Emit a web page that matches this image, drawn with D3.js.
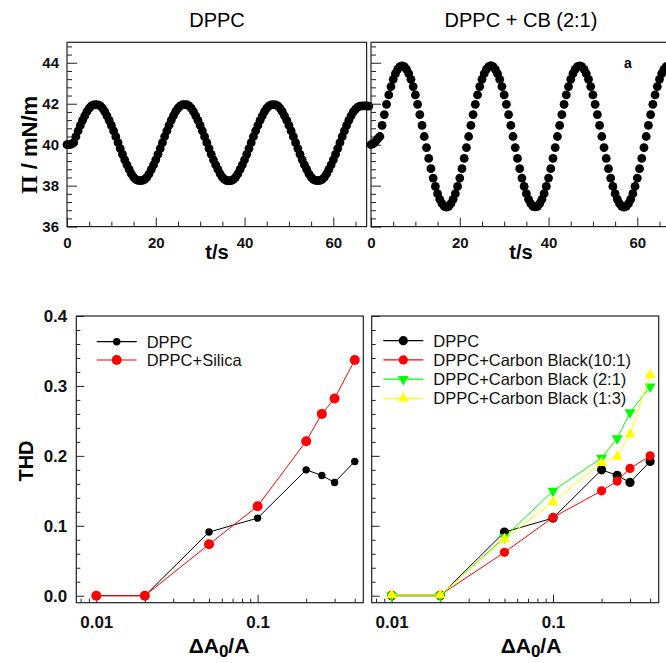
<!DOCTYPE html>
<html>
<head>
<meta charset="utf-8">
<script src="https://cdn.jsdelivr.net/npm/d3@7"></script>
<style>
  body { margin: 0; background: #fff; }
  svg { display: block; font-family: "Liberation Sans", Arial, sans-serif; }
</style>
</head>
<body>
<div id="chart"></div>
<script>
// --- data -----------------------------------------------------------------
// surface pressure (mN/m) sampled every 0.5 s, read off the traces
const sampleStep = 0.5;
const dppcPi = [
  40.00, 40.00, 40.03,
  40.10, 40.39, 40.67, 40.94, 41.19, 41.41, 41.62, 41.78, 41.89, 41.94, 41.95, 41.94, 41.89, 41.78, 41.61, 41.41, 41.19, 40.94, 40.67, 40.39,
  40.10, 39.81, 39.53, 39.26, 39.01, 38.79, 38.58, 38.42, 38.31, 38.26, 38.25, 38.26, 38.31, 38.42, 38.58, 38.79, 39.01, 39.26, 39.53, 39.81,
  40.10, 40.40, 40.68, 40.95, 41.20, 41.42, 41.63, 41.79, 41.90, 41.95, 41.96, 41.95, 41.90, 41.78, 41.61, 41.41, 41.19, 40.94, 40.67, 40.39,
  40.10, 39.81, 39.53, 39.26, 39.01, 38.79, 38.58, 38.41, 38.30, 38.25, 38.24, 38.25, 38.30, 38.42, 38.58, 38.79, 39.01, 39.26, 39.53, 39.81,
  40.10, 40.39, 40.67, 40.94, 41.19, 41.41, 41.62, 41.78, 41.89, 41.94, 41.95, 41.94, 41.89, 41.78, 41.61, 41.41, 41.19, 40.94, 40.67, 40.39,
  40.10, 39.81, 39.53, 39.26, 39.01, 38.79, 38.58, 38.42, 38.31, 38.26, 38.25, 38.26, 38.31, 38.42, 38.58, 38.79, 39.01, 39.26, 39.53, 39.81,
  40.10, 40.39, 40.67, 40.94, 41.19, 41.41, 41.60, 41.74, 41.83, 41.88, 41.90, 41.90, 41.89, 41.88
];
const cbPi = [
  40.00, 40.05, 40.15, 40.28,
  40.40, 40.94, 41.47, 41.97, 42.43, 42.84, 43.19, 43.47, 43.68, 43.81, 43.85, 43.81, 43.68, 43.47, 43.19, 42.84, 42.43, 41.97, 41.47, 40.94,
  40.40, 39.86, 39.33, 38.83, 38.37, 37.96, 37.61, 37.33, 37.12, 36.99, 36.95, 36.99, 37.12, 37.33, 37.61, 37.96, 38.37, 38.83, 39.33, 39.86,
  40.40, 40.94, 41.47, 41.97, 42.43, 42.84, 43.19, 43.47, 43.68, 43.81, 43.86, 43.81, 43.68, 43.47, 43.19, 42.84, 42.43, 41.97, 41.47, 40.94,
  40.40, 39.86, 39.33, 38.83, 38.37, 37.96, 37.61, 37.33, 37.12, 36.99, 36.96, 36.99, 37.12, 37.33, 37.61, 37.96, 38.37, 38.83, 39.33, 39.86,
  40.40, 40.94, 41.47, 41.97, 42.43, 42.84, 43.19, 43.47, 43.68, 43.81, 43.85, 43.81, 43.68, 43.47, 43.19, 42.84, 42.43, 41.97, 41.47, 40.94,
  40.40, 39.86, 39.33, 38.83, 38.37, 37.96, 37.61, 37.33, 37.12, 36.99, 36.95, 36.99, 37.12, 37.33, 37.61, 37.96, 38.37, 38.83, 39.33, 39.86,
  40.40, 40.94, 41.47, 41.97, 42.43, 42.84, 43.19, 43.47, 43.68, 43.81, 43.85, 43.81, 43.68
];
const timeTicks = [0, 20, 40, 60];
const piTicks = [36, 38, 40, 42, 44];

// THD vs relative area amplitude
const amplitude = [0.01, 0.02, 0.05, 0.1, 0.2, 0.25, 0.3, 0.4];
const thdDppc   = [0, 0, 0.091, 0.111, 0.180, 0.172, 0.162, 0.192];
const thdSilica = [0, 0, 0.0735, 0.128, 0.221, 0.260, 0.282, 0.337];
const thdCb101  = [0.001, 0.001, 0.062, 0.112, 0.150, 0.164, 0.182, 0.200];
const thdCb21   = [0, 0, 0.0835, 0.150, 0.197, 0.225, 0.262, 0.299];
const thdCb13   = [0.001, 0.001, 0.081, 0.134, 0.190, 0.199, 0.231, 0.316];
const ampTicks = [0.01, 0.1];
const thdTicks = [0, 0.1, 0.2, 0.3, 0.4];

const svg = d3.select('#chart').append('svg').attr('width', 666).attr('height', 663);

function styleAxis(sel) {
  sel.select('.domain').remove();
  sel.selectAll('line').attr('stroke', '#222').attr('stroke-width', 1);
  sel.selectAll('text').attr('fill', '#111').attr('font-weight', 'bold')
    .attr('font-family', '"Liberation Sans", Arial, sans-serif');
}

function frame(x0, x1, y0, y1) {
  svg.append('rect').attr('x', x0).attr('y', y0)
    .attr('width', x1 - x0).attr('height', y1 - y0)
    .attr('fill', 'none').attr('stroke', '#222').attr('stroke-width', 1.2);
}

// --- top row: pressure traces ----------------------------------------------
const yPi = d3.scaleLinear().domain([36, 45]).range([226.6, 42.3]);
const topPanels = [
  { x: d3.scaleLinear().domain([0, 67.5]).range([67, 366.6]), vals: dppcPi, labels: true, title: 'DPPC' },
  { x: d3.scaleLinear().domain([0, 67.5]).range([371, 670.6]), vals: cbPi, labels: false, title: 'DPPC + CB (2:1)' }
];

topPanels.forEach(p => {
  const [x0] = p.x.range();
  const x1 = p.x.range()[1];
  frame(x0, x1, yPi(45), yPi(36));

  const minorT = d3.range(0, 67.5, 5).filter(v => !timeTicks.includes(v));
  svg.append('g').attr('transform', `translate(0,${yPi(36)})`)
    .call(d3.axisBottom(p.x).tickValues(minorT).tickSize(-5).tickFormat(''))
    .call(styleAxis);
  svg.append('g').attr('transform', `translate(0,${yPi(36)})`)
    .call(d3.axisBottom(p.x).tickValues(timeTicks).tickSize(-9).tickPadding(11).tickFormat(d3.format('d')))
    .call(styleAxis)
    .selectAll('text').attr('font-size', 15);

  const minorP = d3.range(36, 45, 0.4).filter(v => Math.abs(v - Math.round(v)) > 0.01 || Math.round(v) % 2);
  svg.append('g').attr('transform', `translate(${x0},0)`)
    .call(d3.axisLeft(yPi).tickValues(minorP).tickSize(-5).tickFormat(''))
    .call(styleAxis);
  svg.append('g').attr('transform', `translate(${x0},0)`)
    .call(d3.axisLeft(yPi).tickValues(piTicks).tickSize(-10).tickPadding(p.labels ? 8 : 0)
      .tickFormat(p.labels ? d3.format('d') : ''))
    .call(styleAxis)
    .selectAll('text').attr('font-size', 15);

  svg.append('g').selectAll('circle').data(p.vals).join('circle')
    .attr('cx', (d, i) => p.x(i * sampleStep))
    .attr('cy', d => yPi(d))
    .attr('r', 4.4)
    .attr('fill', '#000');

  svg.append('text').attr('x', x0 + 150).attr('y', 27)
    .attr('text-anchor', 'middle').attr('font-size', 20).attr('fill', '#000')
    .text(p.title);

  svg.append('text').attr('x', x0 + 150).attr('y', 259)
    .attr('text-anchor', 'middle').attr('font-size', 20).attr('font-weight', 'bold')
    .text('t/s');
});

const piLabel = svg.append('text').attr('transform', 'translate(37,145) rotate(-90)')
  .attr('text-anchor', 'middle').attr('font-size', 22).attr('font-weight', 'bold');
piLabel.append('tspan').attr('font-family', '"Liberation Serif", serif').attr('font-size', 24).text('\u03A0');
piLabel.append('tspan').text(' / mN/m');

svg.append('text').attr('x', 628).attr('y', 68).attr('text-anchor', 'middle')
  .attr('font-size', 14).attr('font-weight', 'bold').text('a');

// --- bottom row: THD -------------------------------------------------------
const yThd = d3.scaleLinear().domain([-0.01, 0.4]).range([602.7, 316]);
const ampDomain = [0.00752, 0.452];
const xLeft = d3.scaleLog().domain(ampDomain).range([76.3, 363.3]);
const xRight = d3.scaleLog().domain(ampDomain).range([371.7, 658.7]);

function thdAxes(x, labels) {
  const [x0, x1] = x.range();
  frame(x0, x1, yThd(0.4), yThd(-0.01));

  const minorA = [0.008, 0.009, 0.02, 0.03, 0.04, 0.05, 0.06, 0.07, 0.08, 0.09, 0.2, 0.3, 0.4];
  svg.append('g').attr('transform', `translate(0,${yThd(-0.01)})`)
    .call(d3.axisBottom(x).tickValues(minorA).tickSize(-4).tickFormat(''))
    .call(styleAxis);
  svg.append('g').attr('transform', `translate(0,${yThd(-0.01)})`)
    .call(d3.axisBottom(x).tickValues(ampTicks).tickSize(-8).tickPadding(13).tickFormat(d => String(d)))
    .call(styleAxis)
    .selectAll('text').attr('font-size', 17);

  const minorY = d3.range(0, 0.4, 0.02).filter((v, i) => i % 5 !== 0);
  svg.append('g').attr('transform', `translate(${x0},0)`)
    .call(d3.axisLeft(yThd).tickValues(minorY).tickSize(-4).tickFormat(''))
    .call(styleAxis);
  svg.append('g').attr('transform', `translate(${x0},0)`)
    .call(d3.axisLeft(yThd).tickValues(thdTicks).tickSize(-8).tickPadding(labels ? 9 : 0)
      .tickFormat(labels ? d3.format('.1f') : ''))
    .call(styleAxis)
    .selectAll('text').attr('font-size', 17);
}

function series(x, vals, color, shape, size) {
  const pts = amplitude.map((a, i) => [a, vals[i]]);
  svg.append('path').datum(pts)
    .attr('d', d3.line().x(d => x(d[0])).y(d => yThd(d[1])))
    .attr('fill', 'none').attr('stroke', color).attr('stroke-width', 1);
  drawMarkers(svg.append('g'), pts.map(d => [x(d[0]), yThd(d[1])]), color, shape, size);
}

function drawMarkers(g, xy, color, shape, size) {
  if (shape === 'circle') {
    g.selectAll('circle').data(xy).join('circle')
      .attr('cx', d => d[0]).attr('cy', d => d[1]).attr('r', size).attr('fill', color);
  } else {
    const sym = d3.symbol(d3.symbolTriangle, size);
    g.selectAll('path').data(xy).join('path')
      .attr('d', sym)
      .attr('transform', d => `translate(${d[0]},${d[1]})` + (shape === 'down' ? ' rotate(180)' : ''))
      .attr('fill', color);
  }
}

function legend(items, lx, ly, dy) {
  items.forEach((it, i) => {
    const y = ly + i * dy;
    svg.append('line').attr('x1', lx).attr('x2', lx + 40).attr('y1', y).attr('y2', y)
      .attr('stroke', it.color).attr('stroke-width', 1.2);
    drawMarkers(svg.append('g'), [[lx + 20, y]], it.color, it.shape, it.size);
    svg.append('text').attr('x', lx + 50).attr('y', y).attr('dy', '0.36em')
      .attr('font-size', 16.5).attr('fill', '#111').text(it.label);
  });
}

// left: DPPC vs silica
thdAxes(xLeft, true);
series(xLeft, thdDppc, '#000', 'circle', 3.7);
series(xLeft, thdSilica, '#ff0000', 'circle', 5);
legend([
  { label: 'DPPC', color: '#000', shape: 'circle', size: 3.7 },
  { label: 'DPPC+Silica', color: '#ff0000', shape: 'circle', size: 5 }
], 96.7, 341.7, 18.3);

// right: DPPC vs carbon black ratios
thdAxes(xRight, false);
series(xRight, thdDppc, '#000', 'circle', 4.6);
series(xRight, thdCb101, '#ff0000', 'circle', 4.6);
series(xRight, thdCb21, '#00ff00', 'down', 52);
series(xRight, thdCb13, '#ffff00', 'up', 52);
legend([
  { label: 'DPPC', color: '#000', shape: 'circle', size: 4.6 },
  { label: 'DPPC+Carbon Black(10:1)', color: '#ff0000', shape: 'circle', size: 4.6 },
  { label: 'DPPC+Carbon Black (2:1)', color: '#00ff00', shape: 'down', size: 52 },
  { label: 'DPPC+Carbon Black (1:3)', color: '#ffff00', shape: 'up', size: 52 }
], 383.3, 340.7, 19.2);

svg.append('text').attr('transform', 'translate(33,461) rotate(-90)')
  .attr('text-anchor', 'middle').attr('font-size', 20).attr('font-weight', 'bold').text('THD');

[[219, 653], [531, 653]].forEach(([cx, by]) => {
  const t = svg.append('text').attr('x', cx).attr('y', by).attr('text-anchor', 'middle')
    .attr('font-size', 21).attr('font-weight', 'bold');
  t.append('tspan').text('\u0394A');
  t.append('tspan').attr('dy', 4).attr('font-size', 17).text('0');
  t.append('tspan').attr('dy', -4).text('/A');
});
</script>
</body>
</html>
